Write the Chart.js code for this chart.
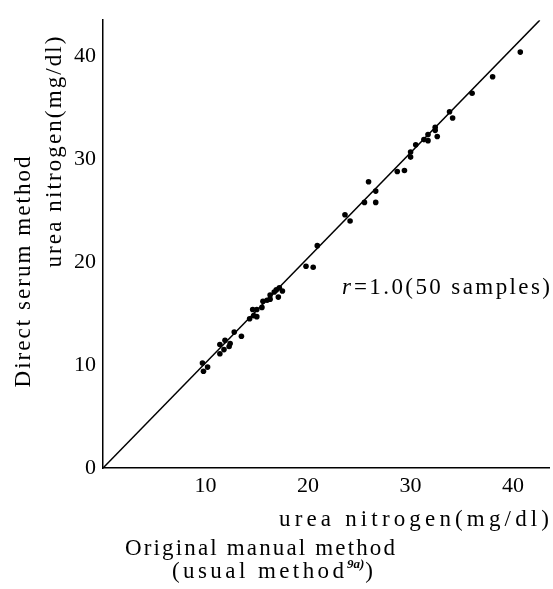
<!DOCTYPE html>
<html>
<head>
<meta charset="utf-8">
<script src="https://cdn.jsdelivr.net/npm/chart.js@4/dist/chart.umd.min.js"></script>
<style>
    html, body { margin: 0; padding: 0; background: #fff; }
    #wrap { position: relative; width: 553px; height: 589px; }
</style>
</head>
<body>
<div id="wrap"><canvas id="grafico"></canvas></div>
<script>
// valores (metodo manual vs metodo directo, mg/dl)
const manualVals = [40.7, 38.0, 36.0, 33.8, 34.1, 32.4, 32.4, 32.6, 31.7, 31.7, 31.3, 30.5, 30.0, 30.0, 29.4, 28.7,
    25.9, 26.6, 25.5, 26.6, 23.6, 24.1, 20.9, 19.8, 20.5, 17.2, 16.9, 17.5, 16.7, 16.3, 17.1, 16.0, 15.6, 16.3,
    14.6, 15.0, 15.5, 14.7, 15.0, 14.3, 12.8, 13.5, 11.4, 11.9, 12.4, 11.8, 11.4, 12.3, 9.7, 10.2, 9.8];
const directVals = [40.4, 38.0, 36.4, 34.6, 34.0, 33.1, 32.8, 32.2, 32.4, 31.8, 31.9, 31.4, 30.7, 30.2, 28.9, 28.8,
    27.8, 26.9, 25.8, 25.8, 24.6, 24.0, 21.6, 19.6, 19.5, 17.5, 17.3, 17.2, 17.1, 16.8, 16.6, 16.3, 16.2, 16.4,
    15.4, 15.4, 15.6, 14.8, 14.7, 14.5, 13.2, 12.8, 12.0, 12.4, 12.1, 11.5, 11.1, 11.8, 10.2, 9.8, 9.4];
const lineX = [0, 42.6];
const lineY = [0, 43.5];
const tickValues = [0, 10, 20, 30, 40];

const serif = "'Liberation Serif', 'DejaVu Serif', serif";

const puntos = manualVals.map((x, i) => ({ x: x, y: directVals[i] }));
const recta = lineX.map((x, i) => ({ x: x, y: lineY[i] }));

// escribe el texto estirando el espaciado para que ocupe "ancho" px
function textoAncho(ctx, txt, x, y, ancho, align) {
    ctx.letterSpacing = '0px';
    const natural = ctx.measureText(txt).width;
    const esp = Math.max(0, (ancho - natural) / (txt.length - 1));
    ctx.letterSpacing = esp + 'px';
    let x0 = x;
    if (align === 'center') x0 = x - ancho / 2;
    if (align === 'right') x0 = x - ancho;
    ctx.textAlign = 'left';
    ctx.fillText(txt, x0, y);
    return x0 + ancho;
}

const textosPlugin = {
    id: 'textos',
    beforeDraw(chart) {
        chart.ctx.letterSpacing = '0px';
    },
    afterDraw(chart) {
        const ctx = chart.ctx;
        ctx.save();
        ctx.fillStyle = '#000';
        ctx.textBaseline = 'middle';
        ctx.font = '23px ' + serif;

        // titulo eje y (rotado)
        const rot = (txt, x, y, ancho) => {
            ctx.save();
            ctx.translate(x, y);
            ctx.rotate(-Math.PI / 2);
            textoAncho(ctx, txt, 0, 0, ancho, 'center');
            ctx.restore();
        };
        rot('Direct serum method', 24, 272, 231);
        rot('urea nitrogen(mg/dl)', 55, 152, 231);

        // titulo eje x
        textoAncho(ctx, 'urea nitrogen(mg/dl)', 549, 520, 270, 'right');
        textoAncho(ctx, 'Original manual method', 260, 549, 270, 'center');

        let x = textoAncho(ctx, '(usual method', 172, 572, 172, 'left');
        ctx.font = 'bold italic 13px ' + serif;
        ctx.letterSpacing = '0px';
        ctx.fillText('9a)', x + 3, 565);
        x += ctx.measureText('9a)').width + 4;
        ctx.font = '23px ' + serif;
        ctx.fillText(')', x, 572);

        // coeficiente
        ctx.font = 'italic 23px ' + serif;
        ctx.letterSpacing = '0px';
        ctx.fillText('r', 342, 288);
        x = 342 + ctx.measureText('r').width + 3;
        ctx.font = '23px ' + serif;
        textoAncho(ctx, '=1.0(50 samples)', x, 288, 550 - x, 'left');
        ctx.restore();
    }
};

const ctx = document.getElementById('grafico').getContext('2d');
new Chart(ctx, {
    type: 'scatter',
    data: {
        datasets: [
            {
                label: 'recta',
                type: 'line',
                data: recta,
                borderColor: '#000',
                borderWidth: 1.5,
                pointRadius: 0,
                fill: false,
                order: 2
            },
            {
                label: 'muestras',
                data: puntos,
                backgroundColor: '#000',
                borderColor: '#000',
                pointRadius: 2.8,
                borderWidth: 0,
                order: 1
            }
        ]
    },
    options: {
        responsive: true,
        maintainAspectRatio: false,
        animation: false,
        layout: { padding: { top: 18, right: 0, left: 0, bottom: 0 } },
        plugins: {
            legend: { display: false },
            tooltip: { enabled: false }
        },
        scales: {
            x: {
                type: 'linear',
                min: 0,
                max: 43.5,
                afterBuildTicks: (axis) => { axis.ticks = tickValues.map(v => ({ value: v })); },
                afterFit: (axis) => { axis.height = 121; },
                grid: { drawOnChartArea: false, drawTicks: false },
                border: { color: '#000', width: 1.5 },
                ticks: {
                    color: '#000',
                    font: { family: serif, size: 22 },
                    padding: 5,
                    callback: (v) => v === 0 ? '' : v
                }
            },
            y: {
                type: 'linear',
                min: 0,
                max: 43.5,
                afterBuildTicks: (axis) => { axis.ticks = tickValues.map(v => ({ value: v })); },
                afterFit: (axis) => { axis.width = 103; },
                grid: { drawOnChartArea: false, drawTicks: false },
                border: { color: '#000', width: 1.5 },
                ticks: {
                    color: '#000',
                    font: { family: serif, size: 22 },
                    padding: 7
                }
            }
        }
    },
    plugins: [textosPlugin]
});
</script>
</body>
</html>
